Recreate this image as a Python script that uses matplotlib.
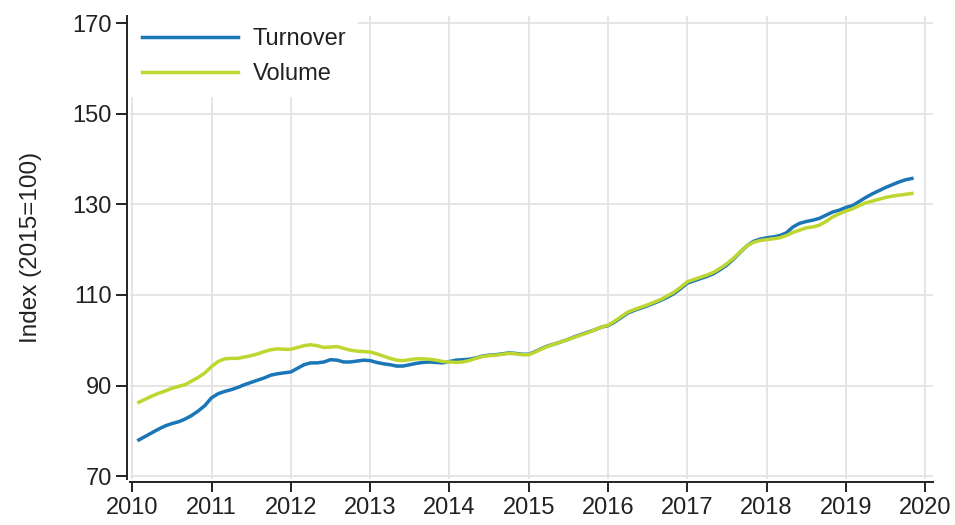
import numpy as np
import matplotlib
matplotlib.use("Agg")
import matplotlib.pyplot as plt

plt.rcParams['font.family'] = ['Liberation Sans', 'DejaVu Sans']

# monthly index, Feb 2010 - Nov 2019
start_year, start_month = 2010, 2

turnover = [
    78.0, 78.8, 79.6, 80.4, 81.1, 81.6, 82.0, 82.6, 83.4, 84.4, 85.6,
    87.3, 88.2, 88.7, 89.1, 89.6, 90.2, 90.7, 91.2, 91.7, 92.3, 92.6, 92.8,
    93.0, 93.8, 94.6, 95.0, 95.0, 95.2, 95.7, 95.6, 95.2, 95.2, 95.4, 95.6,
    95.5, 95.1, 94.8, 94.6, 94.3, 94.3, 94.6, 94.9, 95.1, 95.2, 95.1, 95.0,
    95.3, 95.6, 95.7, 95.8, 96.1, 96.5, 96.7, 96.8, 97.0, 97.2, 97.1, 96.9,
    96.9, 97.5, 98.2, 98.8, 99.2, 99.7, 100.2, 100.8, 101.3, 101.8, 102.3, 102.9,
    103.2, 104.0, 105.0, 106.0, 106.6, 107.1, 107.6, 108.2, 108.8, 109.5, 110.3, 111.4,
    112.6, 113.1, 113.6, 114.1, 114.7, 115.6, 116.6, 117.9, 119.4, 120.8, 121.8, 122.3,
    122.6, 122.8, 123.1, 123.7, 125.0, 125.8, 126.2, 126.5, 126.9, 127.6, 128.3, 128.7,
    129.3, 129.7, 130.6, 131.5, 132.3, 133.0, 133.7, 134.3, 134.9, 135.4, 135.7,
]

volume = [
    86.3, 87.0, 87.7, 88.3, 88.8, 89.4, 89.8, 90.2, 91.0, 91.8, 92.8,
    94.2, 95.3, 95.9, 96.0, 96.0, 96.3, 96.6, 97.0, 97.5, 97.9, 98.1, 98.0,
    98.0, 98.4, 98.8, 99.0, 98.8, 98.4, 98.5, 98.6, 98.2, 97.8, 97.6, 97.5,
    97.4, 97.0, 96.5, 96.0, 95.6, 95.5, 95.7, 95.9, 95.9, 95.8, 95.6, 95.3,
    95.2, 95.1, 95.2, 95.5, 96.0, 96.4, 96.6, 96.7, 96.9, 97.1, 97.0, 96.8,
    96.8, 97.4, 98.1, 98.7, 99.2, 99.7, 100.2, 100.7, 101.2, 101.7, 102.3, 102.9,
    103.3, 104.2, 105.2, 106.2, 106.8, 107.3, 107.8, 108.4, 109.0, 109.8, 110.6, 111.7,
    112.9, 113.4, 113.9, 114.4, 115.0, 115.9, 116.9, 118.1, 119.5, 120.8, 121.6, 122.0,
    122.2, 122.4, 122.6, 123.1, 123.8, 124.3, 124.8, 125.0, 125.4, 126.2, 127.2, 127.9,
    128.5, 129.0, 129.7, 130.3, 130.7, 131.1, 131.5, 131.8, 132.0, 132.2, 132.4,
]

years = list(range(2010, 2021))
yticks = [70, 90, 110, 130, 150, 170]

t = start_year + (start_month - 1 + np.arange(len(turnover))) / 12.0

fig = plt.figure(figsize=(9.55, 5.25), dpi=100)
ax = fig.add_axes([0.136, 0.087, 0.841, 0.882])

ax.plot(t, turnover, color='#1a76b6', lw=2.5, label='Turnover', zorder=3)
ax.plot(t, volume, color='#bfd630', lw=2.5, label='Volume', zorder=3)

ax.set_xlim(2009.97, 2020.1)
ax.set_ylim(69.3, 171.5)
ax.set_xticks(years)
ax.set_yticks(yticks)
ax.grid(True, color='#e3e3e3', lw=1.3, zorder=0)
ax.set_axisbelow(True)

for s in ['top', 'right']:
    ax.spines[s].set_visible(False)
for s in ['left', 'bottom']:
    ax.spines[s].set_position(('outward', 2))
    ax.spines[s].set_linewidth(1.4)
    ax.spines[s].set_color('#222222')

ax.tick_params(axis='y', length=8, width=1.4, color='#222222',
               labelsize=17, labelcolor='#222222', pad=3)
ax.tick_params(axis='x', length=7, width=1.4, color='#222222',
               labelsize=17, labelcolor='#222222', pad=4)
ax.set_ylabel('Index (2015=100)', fontsize=17.5, color='#222222', labelpad=22)

leg = ax.legend(loc='upper left', frameon=True, fontsize=17, handlelength=4.1,
                borderaxespad=0.2, handletextpad=0.6, labelspacing=0.55,
                borderpad=0.3)
leg.get_frame().set_facecolor('white')
leg.get_frame().set_edgecolor('none')
leg.get_frame().set_alpha(1)
leg.get_frame().set_boxstyle('square', pad=0.2)
for text in leg.get_texts():
    text.set_color('#222222')

fig.savefig('out.png', dpi=100)
